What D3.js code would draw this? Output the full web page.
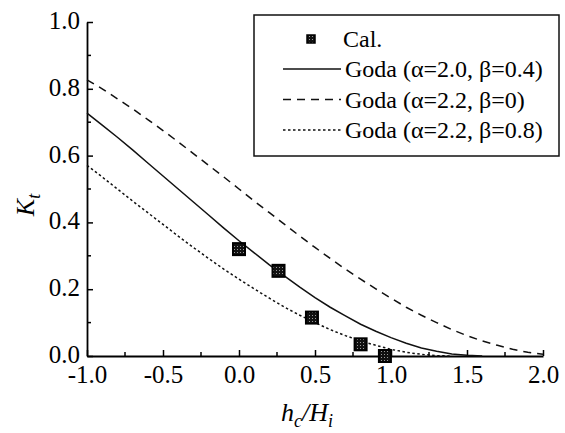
<!DOCTYPE html>
<html>
<head>
<meta charset="utf-8">
<script src="https://cdn.jsdelivr.net/npm/d3@7"></script>
<style>
  html, body { margin: 0; padding: 0; background: #fff; }
  svg { display: block; font-family: 'Liberation Serif', 'Times New Roman', serif; }
</style>
</head>
<body>
<div id="chart"></div>
<script>
// values
const calX = [0.0, 0.26, 0.48, 0.80, 0.96]
const calY = [0.32, 0.255, 0.115, 0.035, 0.0]

const curveX = [-1.0, -0.9, -0.8, -0.7, -0.6, -0.5, -0.4, -0.3, -0.2, -0.1, 0.0,
  0.1, 0.2, 0.3, 0.4, 0.5, 0.6, 0.7, 0.8, 0.9, 1.0,
  1.1, 1.2, 1.3, 1.4, 1.5, 1.6, 1.7, 1.8, 1.9, 2.0]
// Goda (α=2.0, β=0.4)
const goda1 = [0.727, 0.691, 0.655, 0.617, 0.578, 0.539, 0.500, 0.461, 0.422, 0.383, 0.345,
  0.309, 0.273, 0.239, 0.206, 0.175, 0.146, 0.120, 0.095, 0.074, 0.055,
  0.038, 0.024, 0.014, 0.006, 0.002, 0.0]
// Goda (α=2.2, β=0)
const goda2 = [0.827, 0.800, 0.770, 0.740, 0.708, 0.675, 0.641, 0.606, 0.571, 0.536, 0.500,
  0.464, 0.429, 0.394, 0.359, 0.325, 0.292, 0.260, 0.230, 0.201, 0.173,
  0.146, 0.122, 0.100, 0.079, 0.061, 0.045, 0.032, 0.020, 0.011, 0.005]
// Goda (α=2.2, β=0.8)
const goda3 = [0.571, 0.536, 0.500, 0.464, 0.429, 0.394, 0.359, 0.325, 0.292, 0.260, 0.230,
  0.201, 0.173, 0.146, 0.122, 0.100, 0.079, 0.061, 0.045, 0.032, 0.020,
  0.011, 0.005, 0.001, 0.0]

const xTicks = [-1.0, -0.5, 0.0, 0.5, 1.0, 1.5, 2.0]
const xMinor = [-0.75, -0.25, 0.25, 0.75, 1.25, 1.75]
const yTicks = [0.0, 0.2, 0.4, 0.6, 0.8, 1.0]
const yMinor = [0.1, 0.3, 0.5, 0.7, 0.9]

const series = [
  { name: 'Goda (α=2.0, β=0.4)', vals: goda1, dash: null },
  { name: 'Goda (α=2.2, β=0)', vals: goda2, dash: '8,6' },
  { name: 'Goda (α=2.2, β=0.8)', vals: goda3, dash: '2.5,2.5' }
]

const width = 565
const height = 433
const m = { left: 87, right: 22, top: 22, bottom: 77 }

const svg = d3.select('#chart').append('svg')
  .attr('width', width)
  .attr('height', height)

const defs = svg.append('defs')
const pat = defs.append('pattern')
  .attr('id', 'speck')
  .attr('width', 3).attr('height', 3)
  .attr('patternUnits', 'userSpaceOnUse')
pat.append('rect').attr('width', 3).attr('height', 3).attr('fill', '#111')
pat.append('rect').attr('width', 1).attr('height', 1).attr('fill', '#999')

const x = d3.scaleLinear().domain([-1, 2]).range([m.left, width - m.right])
const y = d3.scaleLinear().domain([0, 1]).range([height - m.bottom, m.top])
const fmt = d => d.toFixed(1)

// axes, ticks pointing inward
const xAxis = svg.append('g')
  .attr('transform', `translate(0, ${y(0)})`)
  .call(d3.axisBottom(x).tickValues(xTicks).tickSizeInner(-6).tickSizeOuter(0).tickFormat(fmt))
xAxis.append('g').selectAll('line').data(xMinor).join('line')
  .attr('x1', d => x(d)).attr('x2', d => x(d))
  .attr('y1', 0).attr('y2', -4)
  .attr('stroke', '#000').attr('stroke-width', 1.5)

const yAxis = svg.append('g')
  .attr('transform', `translate(${x(-1)}, 0)`)
  .call(d3.axisLeft(y).tickValues(yTicks).tickSizeInner(-6).tickSizeOuter(0).tickFormat(fmt))
yAxis.append('g').selectAll('line').data(yMinor).join('line')
  .attr('y1', d => y(d)).attr('y2', d => y(d))
  .attr('x1', 0).attr('x2', 4)
  .attr('stroke', '#000').attr('stroke-width', 1.5)

svg.selectAll('.domain').attr('stroke-width', 1.8)
svg.selectAll('.tick line').attr('stroke-width', 1.5)
svg.selectAll('.tick text')
  .attr('font-family', "'Liberation Serif', 'Times New Roman', serif")
  .attr('font-size', 25)
  .attr('fill', '#000')
xAxis.selectAll('.tick text').attr('y', 8).attr('dy', '0.76em')
yAxis.selectAll('.tick text').attr('x', -7).attr('dy', '0.26em')

// curves
const line = d3.line()
  .x((d, i) => x(curveX[i]))
  .y(d => y(d))

svg.append('g').selectAll('path').data(series).join('path')
  .attr('d', d => line(d.vals))
  .attr('fill', 'none')
  .attr('stroke', '#111')
  .attr('stroke-width', 1.5)
  .attr('stroke-dasharray', d => d.dash)

// calculated points
const sq = 12
svg.append('g').selectAll('rect').data(calX).join('rect')
  .attr('x', d => x(d) - sq / 2)
  .attr('y', (d, i) => y(calY[i]) - sq / 2)
  .attr('width', sq).attr('height', sq)
  .attr('fill', 'url(#speck)')
  .attr('stroke', '#000').attr('stroke-width', 2)

// legend
const lg = svg.append('g')
lg.append('rect')
  .attr('x', 254).attr('y', 15).attr('width', 305).attr('height', 141)
  .attr('fill', '#fff').attr('stroke', '#111').attr('stroke-width', 1.5)
lg.append('rect')
  .attr('x', 307).attr('y', 35).attr('width', 8).attr('height', 8)
  .attr('fill', 'url(#speck)').attr('stroke', '#000').attr('stroke-width', 1.5)
lg.append('text')
  .attr('x', 343).attr('y', 39).attr('dy', '0.34em')
  .attr('font-size', 24).attr('fill', '#000')
  .text('Cal.')
const rows = lg.selectAll('g.row').data(series).join('g')
  .attr('class', 'row')
  .attr('transform', (d, i) => `translate(0, ${69 + i * 30.5})`)
rows.append('line')
  .attr('x1', 283).attr('x2', 341)
  .attr('stroke', '#111').attr('stroke-width', 1.5)
  .attr('stroke-dasharray', d => d.dash)
rows.append('text')
  .attr('x', 345).attr('dy', '0.34em')
  .attr('font-size', 24).attr('fill', '#000')
  .text(d => d.name)

// axis titles
const xt = svg.append('text')
  .attr('x', 307).attr('y', 421)
  .attr('text-anchor', 'middle')
  .attr('font-size', 26).attr('font-style', 'italic').attr('fill', '#000')
xt.append('tspan').text('h')
xt.append('tspan').attr('font-size', 18).attr('dy', 6).text('c')
xt.append('tspan').attr('dy', -6).text('/H')
xt.append('tspan').attr('font-size', 18).attr('dy', 6).text('i')

const yt = svg.append('text')
  .attr('transform', 'translate(34, 205) rotate(-90)')
  .attr('text-anchor', 'middle')
  .attr('font-size', 26).attr('font-style', 'italic').attr('fill', '#000')
yt.append('tspan').text('K')
yt.append('tspan').attr('font-size', 18).attr('dy', 6).text('t')
</script>
</body>
</html>
